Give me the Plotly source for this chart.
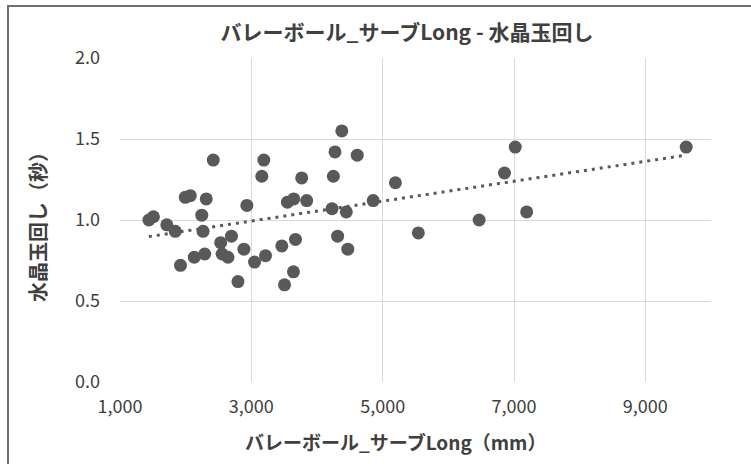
import numpy as np
import plotly.graph_objects as go

# Volleyball long serve distance (mm) vs crystal-ball spin time (s)
serve_long_mm = [
    2420, 3190, 3160, 3767, 1994, 2070, 2313, 3550, 3646, 3843,
    2932, 2245, 1440, 1509, 1713, 1842, 2265, 2697, 2533, 3672,
    3464, 2887, 2555, 2644, 2290, 2131, 3216, 3049, 1921, 3641,
    2796, 3505, 4378, 4274, 4613, 4249, 5194, 4229, 4446, 4856,
    4314, 4469, 5543, 6469, 6855, 7019, 7193, 9622,
]
crystal_ball_s = [
    1.37, 1.37, 1.27, 1.26, 1.14, 1.15, 1.13, 1.11, 1.13, 1.12,
    1.09, 1.03, 1.00, 1.02, 0.97, 0.93, 0.93, 0.90, 0.86, 0.88,
    0.84, 0.82, 0.79, 0.77, 0.79, 0.77, 0.78, 0.74, 0.72, 0.68,
    0.62, 0.60, 1.55, 1.42, 1.40, 1.27, 1.23, 1.07, 1.05, 1.12,
    0.90, 0.82, 0.92, 1.00, 1.29, 1.45, 1.05, 1.45,
]

x_ticks = [1000, 3000, 5000, 7000, 9000]
y_ticks = [0.0, 0.5, 1.0, 1.5, 2.0]

title_text = "バレーボール_サーブLong - 水晶玉回し"
x_title = "バレーボール_サーブLong（mm）"
y_title = "水晶玉回し（秒）"

FONT = "Noto Sans CJK JP"
GRAY = "#595959"
TEXT = "#404040"

# linear trend line over the data's x span
slope, intercept = np.polyfit(serve_long_mm, crystal_ball_s, 1)
trend_x = [min(serve_long_mm), max(serve_long_mm)]
trend_y = [slope * v + intercept for v in trend_x]

fig = go.Figure()
fig.add_trace(go.Scatter(
    x=trend_x, y=trend_y, mode="lines",
    line=dict(color=GRAY, width=3, dash="3px,5px"),
    hoverinfo="skip", showlegend=False,
))
fig.add_trace(go.Scatter(
    x=serve_long_mm, y=crystal_ball_s, mode="markers",
    marker=dict(color=GRAY, size=13, line=dict(width=0)),
    showlegend=False,
))

fig.update_layout(
    width=751, height=464,
    margin=dict(l=120, r=40, t=58, b=82),
    paper_bgcolor="white", plot_bgcolor="white",
    font=dict(family=FONT, color=TEXT),
    title=dict(
        text=f"<b>{title_text}</b>", x=407 / 751, xref="container",
        y=1 - 33 / 464, yref="container", xanchor="center", yanchor="middle",
        font=dict(size=21, color=TEXT, family=FONT),
    ),
    xaxis=dict(
        range=[1000, 10000], tickvals=x_ticks, tickformat=",d",
        showgrid=True, gridcolor="#d9d9d9", gridwidth=1,
        zeroline=False, showline=False, ticks="",
        tickfont=dict(size=18, color=TEXT, family=FONT),
        ticklabelstandoff=12,
    ),
    yaxis=dict(
        range=[0, 2], tickvals=y_ticks, tickformat=".1f",
        showgrid=True, gridcolor="#d9d9d9", gridwidth=1,
        zeroline=False, showline=False, ticks="",
        tickfont=dict(size=18, color=TEXT, family=FONT),
        ticklabelstandoff=19,
    ),
    annotations=[
        dict(text=f"<b>{x_title}</b>", xref="paper", yref="paper",
             x=(395 - 120) / 591, y=(382 - 441) / 324,
             xanchor="center", yanchor="middle", showarrow=False,
             font=dict(size=19, color=TEXT, family=FONT)),
        dict(text=f"<b>{y_title}</b>", xref="paper", yref="paper",
             x=(37 - 120) / 591, y=(382 - 222) / 324, textangle=-90,
             xanchor="center", yanchor="middle", showarrow=False,
             font=dict(size=20, color=TEXT, family=FONT)),
    ],
    shapes=[
        dict(type="rect", xref="paper", yref="paper",
             x0=(8 - 120) / 591, x1=(780 - 120) / 591,
             y0=(382 - 490) / 324, y1=(382 - 6) / 324,
             line=dict(color="#6e6e6e", width=2), fillcolor="rgba(0,0,0,0)",
             layer="below"),
    ],
)

fig.write_html("out.html")
